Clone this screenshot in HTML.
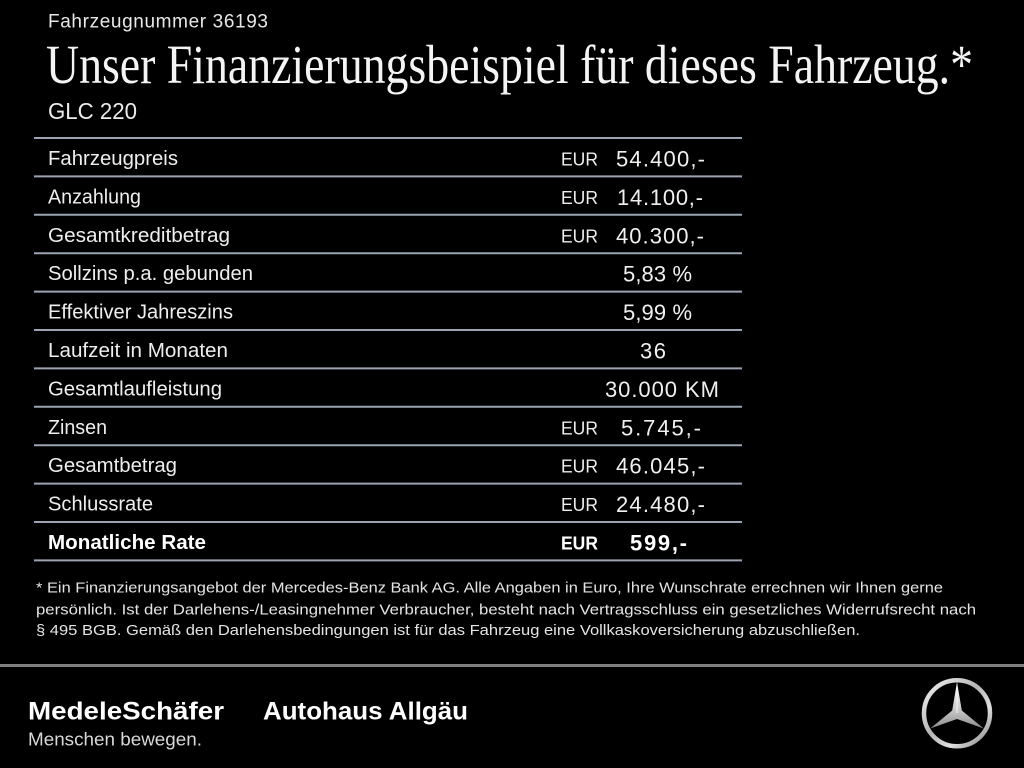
<!DOCTYPE html>
<html>
<head>
<meta charset="utf-8">
<style>
html,body{margin:0;padding:0;background:#000;}
body{width:1024px;height:768px;overflow:hidden;}
svg{display:block;}
</style>
</head>
<body>
<svg width="1024" height="768" viewBox="0 0 1024 768" xmlns="http://www.w3.org/2000/svg">
<defs>
<linearGradient id="silver" x1="0" y1="0" x2="1" y2="1">
<stop offset="0" stop-color="#f2f2f2"/>
<stop offset="0.45" stop-color="#b5b5b5"/>
<stop offset="0.7" stop-color="#e0e0e0"/>
<stop offset="1" stop-color="#7a7a7a"/>
</linearGradient>
<linearGradient id="silver2" x1="0" y1="0" x2="0" y2="1">
<stop offset="0" stop-color="#ffffff"/>
<stop offset="0.6" stop-color="#c8c8c8"/>
<stop offset="1" stop-color="#8a8a8a"/>
</linearGradient>
</defs>
<rect width="1024" height="768" fill="#000"/>

<!-- Header -->
<text x="48" y="27.3" font-family="Liberation Sans, sans-serif" font-size="19" fill="#e8e8e8" textLength="220" lengthAdjust="spacing">Fahrzeugnummer 36193</text>
<text x="46" y="83" font-family="Liberation Serif, serif" font-size="55" fill="#f4f4f4" textLength="927" lengthAdjust="spacingAndGlyphs">Unser Finanzierungsbeispiel für dieses Fahrzeug.*</text>
<text x="48" y="119" font-family="Liberation Sans, sans-serif" font-size="23" fill="#ececec" textLength="89" lengthAdjust="spacingAndGlyphs">GLC 220</text>

<!-- Table lines -->
<g stroke="#9aa4b2" stroke-width="2">
<line x1="34" y1="138" x2="742" y2="138"/>
<line x1="34" y1="176.4" x2="742" y2="176.4"/>
<line x1="34" y1="214.8" x2="742" y2="214.8"/>
<line x1="34" y1="253.2" x2="742" y2="253.2"/>
<line x1="34" y1="291.6" x2="742" y2="291.6"/>
<line x1="34" y1="330" x2="742" y2="330"/>
<line x1="34" y1="368.4" x2="742" y2="368.4"/>
<line x1="34" y1="406.8" x2="742" y2="406.8"/>
<line x1="34" y1="445.2" x2="742" y2="445.2"/>
<line x1="34" y1="483.6" x2="742" y2="483.6"/>
<line x1="34" y1="522" x2="742" y2="522"/>
<line x1="34" y1="560.4" x2="742" y2="560.4"/>
</g>

<!-- Labels -->
<g font-family="Liberation Sans, sans-serif" font-size="20" fill="#eeeeee">
<text x="48" y="165" textLength="130" lengthAdjust="spacingAndGlyphs">Fahrzeugpreis</text>
<text x="48" y="203.4" textLength="93" lengthAdjust="spacingAndGlyphs">Anzahlung</text>
<text x="48" y="241.8" textLength="182" lengthAdjust="spacingAndGlyphs">Gesamtkreditbetrag</text>
<text x="48" y="280.2" textLength="205" lengthAdjust="spacingAndGlyphs">Sollzins p.a. gebunden</text>
<text x="48" y="318.6" textLength="185" lengthAdjust="spacingAndGlyphs">Effektiver Jahreszins</text>
<text x="48" y="357" textLength="180" lengthAdjust="spacingAndGlyphs">Laufzeit in Monaten</text>
<text x="48" y="395.4" textLength="174" lengthAdjust="spacingAndGlyphs">Gesamtlaufleistung</text>
<text x="48" y="433.8" textLength="59" lengthAdjust="spacingAndGlyphs">Zinsen</text>
<text x="48" y="472.2" textLength="129" lengthAdjust="spacingAndGlyphs">Gesamtbetrag</text>
<text x="48" y="510.6" textLength="105" lengthAdjust="spacingAndGlyphs">Schlussrate</text>
<text x="48" y="549" textLength="158" lengthAdjust="spacingAndGlyphs" font-weight="bold" fill="#ffffff">Monatliche Rate</text>
</g>

<!-- EUR -->
<g font-family="Liberation Sans, sans-serif" font-size="18" fill="#eeeeee">
<text x="561" y="165.5" textLength="37" lengthAdjust="spacingAndGlyphs">EUR</text>
<text x="561" y="203.9" textLength="37" lengthAdjust="spacingAndGlyphs">EUR</text>
<text x="561" y="242.3" textLength="37" lengthAdjust="spacingAndGlyphs">EUR</text>
<text x="561" y="434.3" textLength="37" lengthAdjust="spacingAndGlyphs">EUR</text>
<text x="561" y="472.7" textLength="37" lengthAdjust="spacingAndGlyphs">EUR</text>
<text x="561" y="511.1" textLength="37" lengthAdjust="spacingAndGlyphs">EUR</text>
<text x="561" y="549.5" textLength="37" lengthAdjust="spacingAndGlyphs" font-weight="bold" fill="#ffffff">EUR</text>
</g>

<!-- Values -->
<g font-family="Liberation Sans, sans-serif" font-size="22" fill="#f0f0f0">
<text x="616" y="166.5" textLength="89" lengthAdjust="spacing">54.400,-</text>
<text x="617" y="204.9" textLength="86" lengthAdjust="spacing">14.100,-</text>
<text x="616" y="243.3" textLength="88" lengthAdjust="spacing">40.300,-</text>
<text x="623" y="281.7" textLength="69" lengthAdjust="spacing">5,83 %</text>
<text x="623" y="320.1" textLength="69" lengthAdjust="spacing">5,99 %</text>
<text x="640" y="358.5" textLength="26" lengthAdjust="spacing">36</text>
<text x="605" y="396.9" textLength="114" lengthAdjust="spacing">30.000 KM</text>
<text x="621" y="435.3" textLength="80" lengthAdjust="spacing">5.745,-</text>
<text x="616" y="473.7" textLength="89" lengthAdjust="spacing">46.045,-</text>
<text x="616" y="512.1" textLength="89" lengthAdjust="spacing">24.480,-</text>
<text x="630" y="550.5" textLength="57" lengthAdjust="spacing" font-weight="bold" fill="#ffffff">599,-</text>
</g>

<!-- Footnote -->
<g font-family="Liberation Sans, sans-serif" font-size="15" fill="#e4e4e4">
<text x="36" y="592.7" textLength="907" lengthAdjust="spacingAndGlyphs">* Ein Finanzierungsangebot der Mercedes-Benz Bank AG. Alle Angaben in Euro, Ihre Wunschrate errechnen wir Ihnen gerne</text>
<text x="36" y="614.3" textLength="940" lengthAdjust="spacingAndGlyphs">persönlich. Ist der Darlehens-/Leasingnehmer Verbraucher, besteht nach Vertragsschluss ein gesetzliches Widerrufsrecht nach</text>
<text x="36" y="635" textLength="824" lengthAdjust="spacingAndGlyphs">§ 495 BGB. Gemäß den Darlehensbedingungen ist für das Fahrzeug eine Vollkaskoversicherung abzuschließen.</text>
</g>

<!-- Separator -->
<rect x="0" y="664" width="1024" height="3" fill="#808080"/>

<!-- Logos -->
<text x="28" y="719.3" font-family="Liberation Sans, sans-serif" font-size="25" font-weight="bold" fill="#ffffff" textLength="196" lengthAdjust="spacingAndGlyphs">MedeleSchäfer</text>
<text x="263" y="719.3" font-family="Liberation Sans, sans-serif" font-size="25" font-weight="bold" fill="#ffffff" textLength="205" lengthAdjust="spacingAndGlyphs">Autohaus Allgäu</text>
<text x="28" y="745.7" font-family="Liberation Sans, sans-serif" font-size="18" fill="#d8d8d8" textLength="174" lengthAdjust="spacingAndGlyphs">Menschen bewegen.</text>

<!-- Mercedes star -->
<circle cx="957" cy="713.3" r="33" fill="none" stroke="url(#silver)" stroke-width="4.5"/>
<polygon points="957,682 961.8,710.5 983.8,728.5 957,719 930.2,728.5 952.2,710.5" fill="url(#silver2)"/>
<line x1="957" y1="684" x2="957" y2="713" stroke="#f5f5f5" stroke-width="1"/>
</svg>
</body>
</html>
